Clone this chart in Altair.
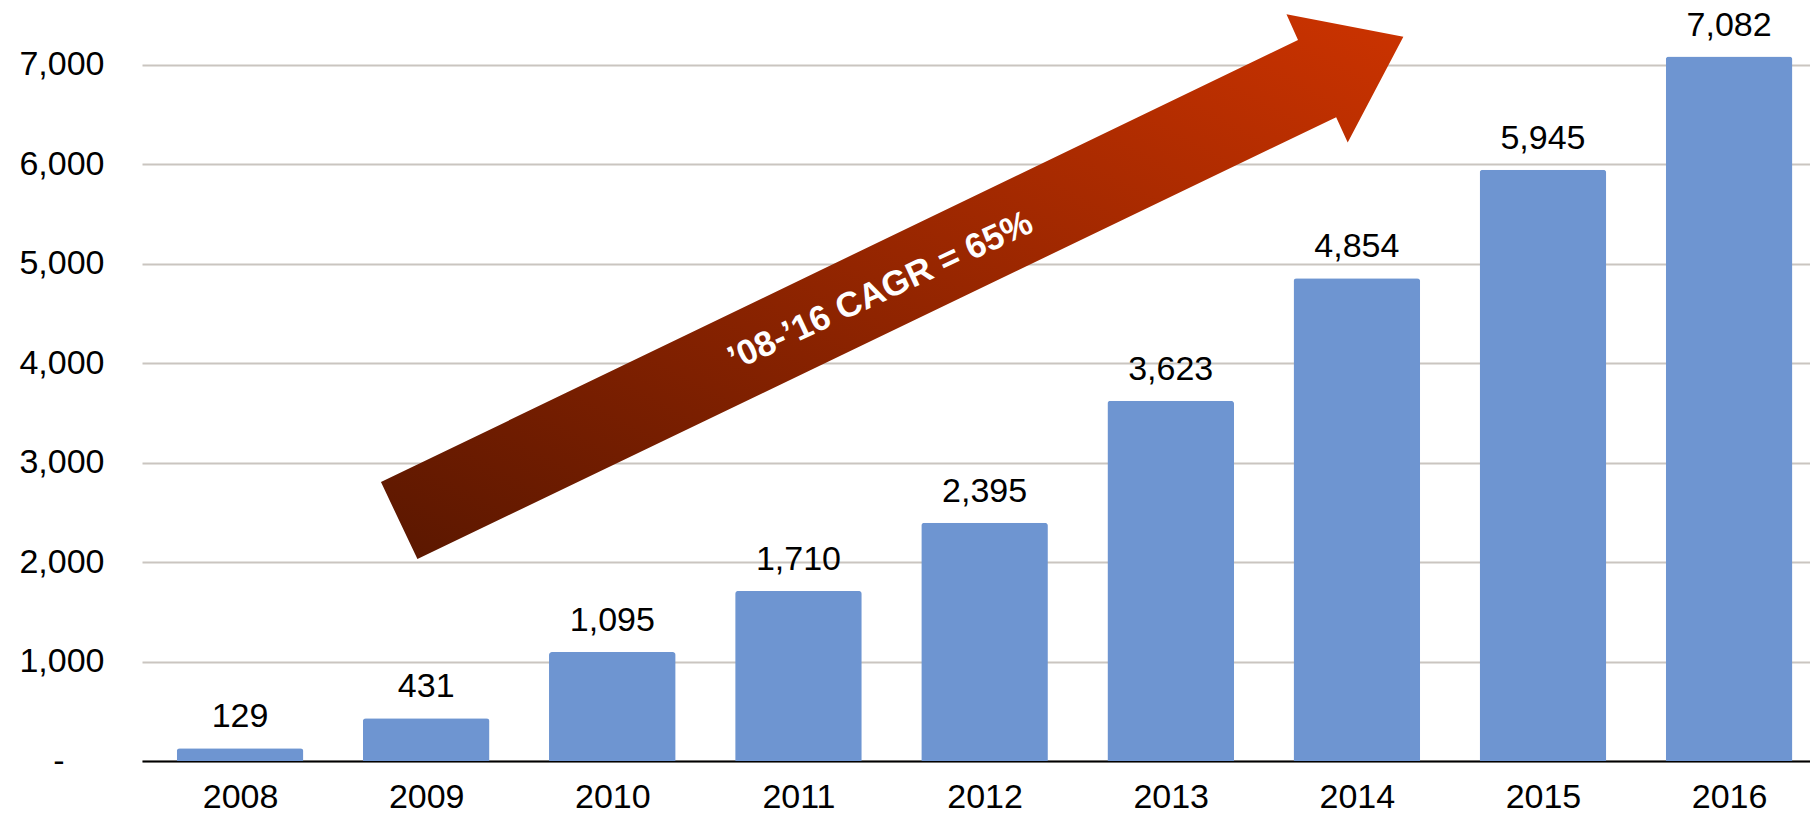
import altair as alt
import pandas as pd

years = [2008, 2009, 2010, 2011, 2012, 2013, 2014, 2015, 2016]
values = [129, 431, 1095, 1710, 2395, 3623, 4854, 5945, 7082]
y_ticks = [0, 1000, 2000, 3000, 4000, 5000, 6000, 7000]

# arrow outline in data units (year, value)
arrow_x = [2008.757, 2013.684, 2013.622, 2014.250, 2013.951, 2013.889, 2008.953]
arrow_y = [2804, 7249, 7507, 7282, 6217, 6472, 2030]
arrow_label = "\u201908-\u201916 CAGR = 65%"
label_x = [2011.44]
label_y = [4726]

FONT = "Liberation Sans"
W, H = 1668, 746

bars_df = pd.DataFrame({"year": years, "value": values})
arrow_df = pd.DataFrame({"x": arrow_x, "y": arrow_y, "idx": list(range(len(arrow_x)))})
label_df = pd.DataFrame({"x": label_x, "y": label_y, "t": [arrow_label]})

xscale = alt.Scale(domain=[2007.5, 2007.5 + W / 187.25], nice=False, zero=False)
yscale = alt.Scale(domain=[0, 7500], nice=False)

bars = alt.Chart(bars_df).mark_bar(
    size=126.6, color="#6e95d1", cornerRadiusTopLeft=3, cornerRadiusTopRight=3
).encode(
    x=alt.X("year:Q", scale=xscale,
            axis=alt.Axis(values=years, format="d", title=None, grid=False, ticks=False,
                          domain=True, domainColor="#000000", domainWidth=2,
                          labelFontSize=34, labelFont=FONT, labelColor="#000000",
                          labelPadding=19, labelFlush=False, labelOverlap=False)),
    y=alt.Y("value:Q", scale=yscale,
            axis=alt.Axis(values=y_ticks, title=None, grid=True, gridColor="#cac5c0",
                          gridWidth=2, ticks=False, domain=False,
                          labelExpr="datum.value == 0 ? '-' : format(datum.value, ',')",
                          labelFontSize=34, labelFont=FONT, labelColor="#000000",
                          labelPadding={"condition": {"test": "datum.value == 0", "value": 78},
                                        "value": 38})),
)

texts = alt.Chart(bars_df).mark_text(
    fontSize=34, font=FONT, color="#000000", baseline="alphabetic", dy=-21
).encode(
    x=alt.X("year:Q", scale=xscale),
    y=alt.Y("value:Q", scale=yscale),
    text=alt.Text("value:Q", format=","),
)

grad = {
    "gradient": "linear",
    "x1": 0, "y1": 1, "x2": 1, "y2": 0,
    "stops": [
        {"offset": 0, "color": "#5a1700"},
        {"offset": 1, "color": "#cc3300"},
    ],
}

arrow = alt.Chart(arrow_df).mark_line(
    fill=grad, stroke="transparent", strokeWidth=0, interpolate="linear"
).encode(
    x=alt.X("x:Q", scale=xscale),
    y=alt.Y("y:Q", scale=yscale),
    order=alt.Order("idx:Q"),
)

arrow_text = alt.Chart(label_df).mark_text(
    fontSize=35, font=FONT, fontWeight="bold", color="#ffffff",
    angle=335, align="center", baseline="middle"
).encode(
    x=alt.X("x:Q", scale=xscale),
    y=alt.Y("y:Q", scale=yscale),
    text="t:N",
)

chart = alt.layer(bars, texts, arrow, arrow_text).properties(
    width=W, height=H,
    autosize=alt.AutoSizeParams(type="none"),
    padding={"left": 134, "top": 7, "right": 0, "bottom": 53},
).configure(background="#ffffff").configure_view(strokeWidth=0, stroke="transparent")

chart.save("out.html", embed_options={"renderer": "svg", "actions": False})
